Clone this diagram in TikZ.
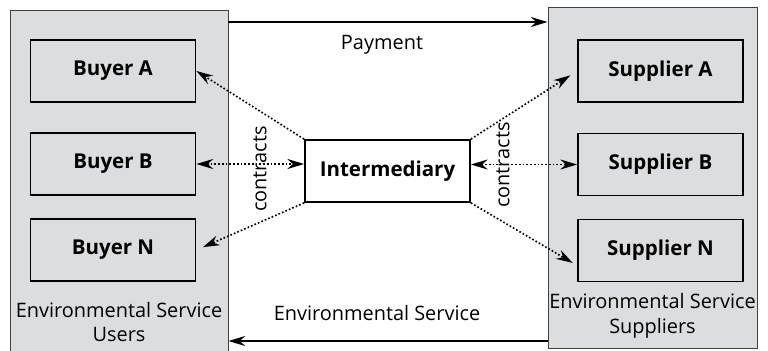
\documentclass[tikz,border=0pt]{standalone}
\usepackage{fontspec}
\setmainfont{Open Sans}
\usetikzlibrary{arrows.meta}
\definecolor{panelgray}{RGB}{220,221,223}

\begin{document}
\begin{tikzpicture}[x=0.03cm,y=-0.03cm,
  panel/.style={draw=black!75, fill=panelgray, line width=0.8pt},
  party/.style={rectangle, draw, line width=1.6pt, fill=panelgray, minimum width=4.95cm, minimum height=1.86cm, font=\fontsize{17.5}{20}\selectfont\bfseries},
  caption/.style={align=center, font=\fontsize{17}{21}\selectfont},
  flow/.style={line width=1.6pt, -{Stealth[length=0.5cm, width=0.3cm]}},
  contract/.style={line width=1.4pt, dash pattern=on 1.4pt off 1.8pt, -{Stealth[length=0.5cm, width=0.3cm]}}]
\useasboundingbox (0,0) rectangle (768,350);
% the two groups
\node[panel, minimum width=6.54cm, minimum height=10.8cm] (users) at (119,190) {};
\node[panel, minimum width=6.27cm, minimum height=10.23cm] (suppliers) at (652.5,177.5) {};
\node[caption] (userstext) at (119,322) {Environmental Service\\Users};
\node[caption] (supplierstext) at (652.5,316) {Environmental Service\\Suppliers};
% buyers, suppliers and the intermediary
\node[party] (buyerA) at (113,71) {Buyer A};
\node[party] (buyerB) at (113,164) {Buyer B};
\node[party] (buyerN) at (113,250) {Buyer N};
\node[party] (supplierA) at (660.5,71) {Supplier A};
\node[party] (supplierB) at (660.5,164.5) {Supplier B};
\node[party] (supplierN) at (660.5,250.5) {Supplier N};
\node[party, fill=white] (inter) at (387.5,171) {Intermediary};
% payment and service flows
\draw[flow] (users.east |- 0,22) -- (suppliers.west |- 0,22);
\node[caption] (payment) at (382,45) {Payment};
\draw[flow] (suppliers.west |- 0,341) -- (users.east |- 0,341);
\node[caption] (service) at (377,313) {Environmental Service};
% contracts
\draw[contract] (inter.north west) -- (buyerA.east);
\draw[contract, {Stealth[length=0.5cm, width=0.3cm]}-{Stealth[length=0.5cm, width=0.3cm]}] (buyerB.east) -- (buyerB.east -| inter.west);
\draw[contract, shorten >=7*0.03cm] (inter.south west) -- (buyerN.east);
\draw[contract, shorten >=8*0.03cm] (inter.north east) -- (supplierA.west);
\draw[contract, {Stealth[length=0.5cm, width=0.3cm]}-{Stealth[length=0.5cm, width=0.3cm]}] (inter.east |- supplierB.west) -- (supplierB.west);
\draw[contract, shorten >=5*0.03cm] (inter.south east) -- ([yshift=-0.45cm]supplierN.west);
\node[caption, rotate=90] (contractsL) at (260,169) {contracts};
\node[caption, rotate=90] (contractsR) at (503,165) {contracts};
\end{tikzpicture}
\end{document}
